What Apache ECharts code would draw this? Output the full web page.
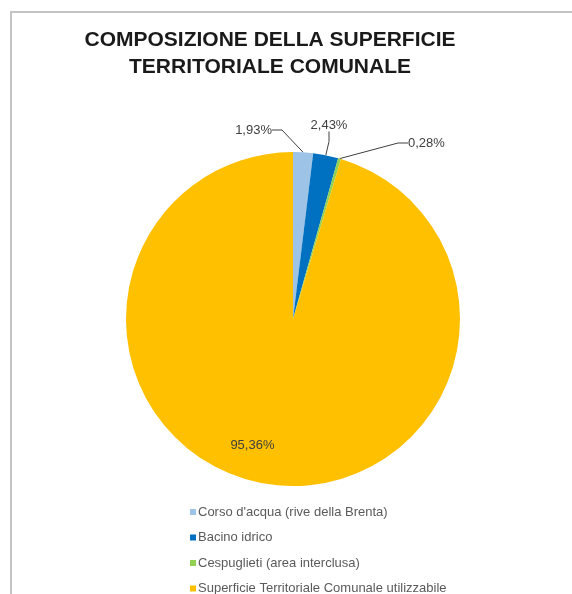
<!DOCTYPE html>
<html>
<head>
<meta charset="utf-8">
<script src="https://cdn.jsdelivr.net/npm/echarts@6/dist/echarts.min.js"></script>
<style>
  html, body { margin: 0; padding: 0; background: #fff; }
  #chart { width: 572px; height: 594px; }
</style>
</head>
<body>
<div id="chart"></div>
<script>
// Land-use shares of the municipal territory (percent)
const categories = [
  "Corso d'acqua (rive della Brenta)",
  "Bacino idrico",
  "Cespuglieti (area interclusa)",
  "Superficie Territoriale Comunale utilizzabile"
];
const shares = [1.93, 2.43, 0.28, 95.36];
const colors = ['#9DC3E6', '#0070C0', '#92D050', '#FFC000'];

// Where each outside label sits (only the three thin slices use one)
const labelSpots = [
  { x: 272, y: 130, align: 'right' },
  { x: 329, y: 125, align: 'center' },
  { x: 408, y: 143, align: 'left' }
];

const fmt = v => v.toFixed(2).replace('.', ',') + '%';

const chart = echarts.init(document.getElementById('chart'));

const data = categories.map((name, i) => {
  const item = { name, value: shares[i], itemStyle: { color: colors[i] } };
  if (i === 3) {
    item.label = { position: 'inside', offset: [-28, 41] };
    item.labelLine = { show: false };
  }
  return item;
});

chart.setOption({
  animation: false,
  backgroundColor: '#ffffff',
  graphic: [{
    type: 'rect',
    shape: { x: 11, y: 12, width: 600, height: 600 },
    style: { fill: 'none', stroke: '#c4c4c4', lineWidth: 2 },
    silent: true
  }],
  title: {
    text: 'COMPOSIZIONE DELLA SUPERFICIE\nTERRITORIALE COMUNALE',
    left: 265,
    top: 22,
    textAlign: 'center',
    textStyle: {
      fontFamily: 'Liberation Sans',
      fontWeight: 'bold',
      fontSize: 21,
      lineHeight: 27,
      color: '#1a1a1a'
    }
  },
  legend: {
    orient: 'vertical',
    left: 190,
    top: 505,
    height: 200,
    padding: 0,
    itemWidth: 6,
    itemHeight: 6,
    itemGap: 11.5,
    icon: 'rect',
    textStyle: {
      fontFamily: 'Liberation Sans',
      fontSize: 13,
      lineHeight: 14,
      color: '#5a5a5a',
      padding: [0, 0, 0, -3]
    },
    data: categories
  },
  series: [{
    type: 'pie',
    center: [293, 319],
    radius: 167,
    startAngle: 90,
    clockwise: true,
    avoidLabelOverlap: false,
    data: data,
    label: {
      show: true,
      position: 'outside',
      formatter: p => fmt(p.value),
      fontFamily: 'Liberation Sans',
      fontSize: 13,
      color: '#404040'
    },
    labelLine: {
      show: true,
      length: 12,
      length2: 10,
      lineStyle: { color: '#404040', width: 1 }
    },
    labelLayout: params => {
      const spot = labelSpots[params.dataIndex];
      if (!spot) return {};
      return { x: spot.x, y: spot.y, align: spot.align, verticalAlign: 'middle' };
    },
    itemStyle: { borderWidth: 0 },
    emphasis: { disabled: true }
  }]
});
</script>
</body>
</html>
